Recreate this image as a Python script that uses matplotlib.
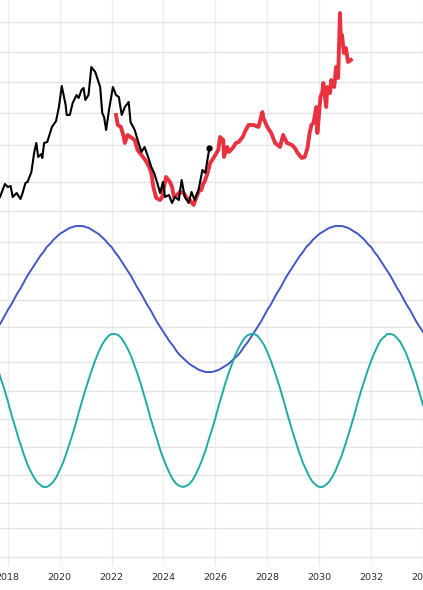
import numpy as np
import matplotlib
matplotlib.use("Agg")
from matplotlib import pyplot as plt

# price history (black) and model path (red), in chart units
hist_years = [2017.70, 2017.89, 2018.00, 2018.11, 2018.19, 2018.34, 2018.49, 2018.57,
              2018.68, 2018.76, 2018.91, 2019.02, 2019.10, 2019.17, 2019.29, 2019.33,
              2019.40, 2019.52, 2019.70, 2019.86, 2019.97, 2020.08, 2020.23, 2020.27,
              2020.39, 2020.50, 2020.65, 2020.73, 2020.84, 2020.92, 2020.99, 2021.11,
              2021.22, 2021.37, 2021.56, 2021.64, 2021.71, 2021.79, 2021.90, 2022.05,
              2022.17, 2022.28, 2022.39, 2022.51, 2022.66, 2022.73, 2022.89, 2023.04,
              2023.15, 2023.27, 2023.42, 2023.53, 2023.64, 2023.76, 2023.87, 2023.98,
              2024.06, 2024.21, 2024.33, 2024.44, 2024.59, 2024.70, 2024.82, 2024.97,
              2025.08, 2025.20, 2025.35, 2025.50, 2025.61, 2025.77]
hist_vals = [18, 31, 28, 29, 18, 22, 16, 22, 32, 33, 43, 63, 72, 58, 61, 57,
             72, 73, 88, 94, 108, 129, 110, 100, 100, 112, 120, 117, 125, 127, 115, 120,
             148, 143, 128, 102, 98, 85, 105, 128, 120, 118, 100, 108, 113, 93, 85, 72,
             63, 68, 57, 48, 42, 32, 22, 33, 18, 20, 12, 18, 15, 35, 18, 12,
             23, 15, 25, 45, 42, 67]

model_years = [2022.17, 2022.24, 2022.36, 2022.47, 2022.51, 2022.62, 2022.73, 2022.89,
               2023.00, 2023.15, 2023.30, 2023.45, 2023.53, 2023.61, 2023.72, 2023.87,
               2023.95, 2024.02, 2024.10, 2024.25, 2024.33, 2024.40, 2024.52, 2024.63,
               2024.78, 2024.89, 2025.01, 2025.16, 2025.27, 2025.39, 2025.46, 2025.54,
               2025.58, 2025.70, 2025.80, 2025.95, 2026.11, 2026.18, 2026.30, 2026.33,
               2026.45, 2026.52, 2026.67, 2026.79, 2026.90, 2027.05, 2027.17, 2027.28,
               2027.47, 2027.66, 2027.81, 2027.85, 2028.00, 2028.15, 2028.30, 2028.49,
               2028.61, 2028.76, 2028.95, 2029.06, 2029.17, 2029.33, 2029.44, 2029.55,
               2029.63, 2029.70, 2029.78, 2029.89, 2029.93, 2030.05, 2030.12, 2030.16,
               2030.27, 2030.31, 2030.42, 2030.46, 2030.58, 2030.65, 2030.73, 2030.80,
               2030.84, 2030.88, 2030.95, 2031.03, 2031.11, 2031.22]
model_vals = [100, 90, 88, 78, 72, 80, 78, 75, 65, 60, 55, 48, 42, 28, 17, 15,
              18, 28, 38, 33, 28, 18, 20, 23, 22, 17, 15, 10, 18, 25, 25, 32,
              33, 42, 52, 58, 65, 78, 75, 58, 68, 63, 67, 72, 73, 78, 85, 90,
              90, 88, 103, 97, 88, 82, 72, 68, 80, 72, 70, 67, 62, 57, 58, 67,
              82, 90, 92, 108, 82, 118, 123, 132, 108, 128, 122, 135, 128, 148, 137, 202,
              172, 180, 162, 167, 153, 155]

# cycle curves, read every eighth of a year from 2017.5 to 2034.0
cycle_years = np.arange(2017.5, 2034.01, 0.125)
long_cycle = [234, 239, 244, 250, 256, 261, 267, 273, 278, 284, 290, 295, 300, 305,
              310, 314, 319, 322, 326, 329, 332, 334, 336, 338, 339, 340, 340,
              340, 339, 338, 336, 334, 332, 329, 326, 322, 319, 314, 310, 305, 300,
              295, 290, 284, 278, 273, 267, 261, 256, 250, 244, 239, 234, 229, 224,
              220, 215, 211, 208, 205, 202, 200, 198, 196, 195, 194, 194,
              194, 195, 196, 198, 200, 202, 205, 208, 211, 215, 220, 224, 229, 234,
              239, 244, 250, 256, 261, 267, 273, 278, 284, 290, 295, 300, 305, 310,
              314, 319, 322, 326, 329, 332, 334, 336, 338, 339, 340, 340,
              340, 339, 338, 336, 334, 332, 329, 326, 322, 319, 314, 310, 305, 300,
              295, 290, 284, 278, 273, 267, 261, 256, 250, 244, 239, 234]
short_cycle = [205, 196, 186, 176, 165, 153, 142, 131, 121, 111,
               102, 95, 89, 84, 81, 79, 79, 81, 84, 89,
               96, 103, 112, 122, 132, 143, 155, 166, 177, 187,
               197, 206, 214, 221, 226, 230, 232, 232, 231, 228,
               223, 217, 210, 201, 192, 182, 171, 160, 148, 137,
               127, 116, 107, 99, 92, 86, 82, 80, 79, 80,
               82, 86, 92, 99, 107, 116, 127, 137, 148, 160,
               171, 182, 192, 201, 210, 217, 223, 228, 231, 232,
               232, 230, 226, 221, 214, 206, 197, 187, 177, 166,
               154, 143, 132, 122, 112, 103, 96, 89, 84, 81,
               79, 79, 81, 84, 89, 95, 103, 111, 121, 131,
               142, 153, 165, 176, 186, 196, 205, 213, 220, 226,
               229, 232, 232, 231, 228, 224, 218, 211, 202, 193,
               183, 172, 161]

year_ticks = list(range(2018, 2036, 2))
top_grid = [4, 33, 70, 102, 133, 163, 193]
bottom_grid = [9, 38, 63, 91, 119, 147, 175, 204, 239, 266, 292, 324]

fig = plt.figure(figsize=(4.23, 5.90), dpi=100)
ax_top = fig.add_axes([0, 0.6356, 1, 0.3644])
ax_bot = fig.add_axes([0, 0.0407, 1, 0.5949])

for ax in (ax_top, ax_bot):
    ax.set_xlim(2017.70, 2033.72)
    ax.set_xticks(year_ticks)
    ax.grid(True, axis='x', color='#eeeeee', lw=1.0)
    ax.grid(True, axis='y', color='#e4e4e4', lw=1.0)
    ax.set_axisbelow(True)
    for s in ax.spines.values():
        s.set_visible(False)
    ax.tick_params(length=0)

ax_top.set_ylim(0, 215)
ax_top.set_yticks(top_grid)
ax_top.set_xticklabels([])
ax_top.set_yticklabels([])

ax_top.plot(model_years, model_vals, color='#e8323f', lw=2.8, zorder=2)
ax_top.plot(hist_years, hist_vals, color='black', lw=1.5, zorder=3)
ax_top.plot(hist_years[-1], hist_vals[-1], 'o', color='black', ms=3.5, zorder=4)

ax_bot.set_ylim(0, 351)
ax_bot.set_yticks(bottom_grid)
ax_bot.set_yticklabels([])
ax_bot.plot(cycle_years, long_cycle, color='#4157c4', lw=1.4)
ax_bot.plot(cycle_years, short_cycle, color='#23aaa6', lw=1.4)
ax_bot.set_xticklabels([str(y) for y in year_ticks], fontsize=6.8, color='#2a2a2a')
ax_bot.tick_params(axis='x', pad=5)

fig.savefig('out.png', dpi=100)
